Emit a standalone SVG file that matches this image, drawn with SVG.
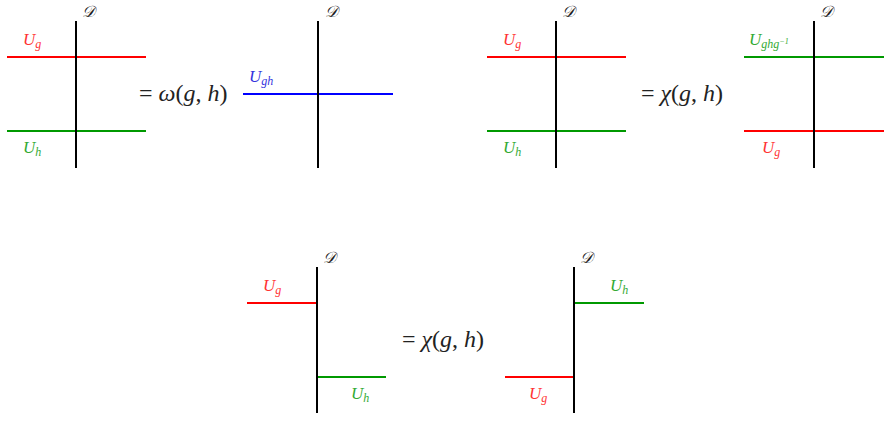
<svg xmlns="http://www.w3.org/2000/svg" width="891" height="421" viewBox="0 0 891 421">
<style>
.wall{stroke:#000;stroke-width:2;fill:none}
.r{stroke:#ff0000;stroke-width:2;fill:none}
.g{stroke:#009900;stroke-width:2;fill:none}
.b{stroke:#0000ff;stroke-width:2;fill:none}
text{font-family:"Liberation Serif","DejaVu Serif",serif;font-style:italic}
.lab{font-size:17px}
.lr{fill:#ff3333}
.lg{fill:#33aa33}
.lb{fill:#3333dd}
.sub{font-size:12px}
.d{font-size:16px;fill:#222}
.eq{font-size:24px;fill:#222}
.up{font-style:normal}
</style>
<rect width="891" height="421" fill="#fff"/>
<g id="connectors">
<line class="r" x1="7" y1="57" x2="146" y2="57"/>
<line class="g" x1="7" y1="131" x2="146" y2="131"/>
<line class="b" x1="243" y1="94" x2="393" y2="94"/>
<line class="r" x1="487" y1="57" x2="626" y2="57"/>
<line class="g" x1="487" y1="131" x2="626" y2="131"/>
<line class="g" x1="744" y1="57" x2="884" y2="57"/>
<line class="r" x1="744" y1="131" x2="884" y2="131"/>
<line class="r" x1="247" y1="303" x2="317" y2="303"/>
<line class="g" x1="317" y1="377" x2="386" y2="377"/>
<line class="g" x1="574" y1="303" x2="644" y2="303"/>
<line class="r" x1="505" y1="377" x2="574" y2="377"/>
</g>
<g id="wall1"><line class="wall" x1="76" y1="21" x2="76" y2="168"/><text class="d" x="82" y="17">𝒟</text></g>
<g id="wall2"><line class="wall" x1="318" y1="21" x2="318" y2="168"/><text class="d" x="325" y="17">𝒟</text></g>
<g id="wall3"><line class="wall" x1="556" y1="21" x2="556" y2="168"/><text class="d" x="562" y="17">𝒟</text></g>
<g id="wall4"><line class="wall" x1="814" y1="21" x2="814" y2="168"/><text class="d" x="820" y="17">𝒟</text></g>
<g id="wall5"><line class="wall" x1="317" y1="267" x2="317" y2="413"/><text class="d" x="323" y="263">𝒟</text></g>
<g id="wall6"><line class="wall" x1="574" y1="267" x2="574" y2="413"/><text class="d" x="580" y="263">𝒟</text></g>
<g id="labels">
<text class="lab lr" x="23" y="45">U<tspan class="sub" dy="3">g</tspan></text>
<text class="lab lg" x="23" y="153">U<tspan class="sub" dy="3">h</tspan></text>
<text class="lab lb" x="249" y="82">U<tspan class="sub" dy="3">gh</tspan></text>
<text class="lab lr" x="503" y="45">U<tspan class="sub" dy="3">g</tspan></text>
<text class="lab lg" x="503" y="153">U<tspan class="sub" dy="3">h</tspan></text>
<text class="lab lg" x="749" y="45">U<tspan class="sub" dy="3">ghg</tspan><tspan font-size="8" dy="-4">−1</tspan></text>
<text class="lab lr" x="762" y="153">U<tspan class="sub" dy="3">g</tspan></text>
<text class="lab lr" x="263" y="291">U<tspan class="sub" dy="3">g</tspan></text>
<text class="lab lg" x="351" y="399">U<tspan class="sub" dy="3">h</tspan></text>
<text class="lab lg" x="610" y="291">U<tspan class="sub" dy="3">h</tspan></text>
<text class="lab lr" x="529" y="399">U<tspan class="sub" dy="3">g</tspan></text>
</g>
<g id="eq1"><text class="eq" x="139" y="101"><tspan class="up">= </tspan>ω<tspan class="up">(</tspan>g<tspan class="up">, </tspan>h<tspan class="up">)</tspan></text></g>
<g id="eq2"><text class="eq" x="641" y="101"><tspan class="up">= </tspan>χ<tspan class="up">(</tspan>g<tspan class="up">, </tspan>h<tspan class="up">)</tspan></text></g>
<g id="eq3"><text class="eq" x="402" y="347"><tspan class="up">= </tspan>χ<tspan class="up">(</tspan>g<tspan class="up">, </tspan>h<tspan class="up">)</tspan></text></g>
</svg>
